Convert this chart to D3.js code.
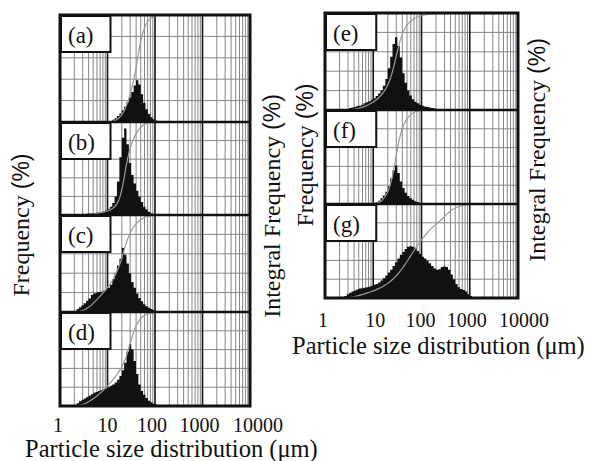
<!DOCTYPE html>
<html>
<head>
<meta charset="utf-8">
<script src="https://cdn.jsdelivr.net/npm/d3@7"></script>
<style>
  body { margin: 0; background: #fff; }
  text { font-family: "Liberation Serif", "Times New Roman", serif; fill: #111; }
</style>
</head>
<body>
<script>

// bin edges (um), 0.05 decade wide
const binEdges = [
    1, 1.12, 1.26, 1.41, 1.58, 1.78, 2, 2.24, 2.51, 2.82, 3.16, 3.55, 3.98, 4.47, 5.01, 5.62, 6.31, 7.08, 7.94, 8.91,
    10, 11.2, 12.6, 14.1, 15.8, 17.8, 20, 22.4, 25.1, 28.2, 31.6, 35.5, 39.8, 44.7, 50.1, 56.2, 63.1, 70.8, 79.4, 89.1,
    100, 112, 126, 141, 158, 178, 200, 224, 251, 282, 316, 355, 398, 447, 501, 562, 631, 708, 794, 891,
    1000, 1120, 1260];

// frequency per bin (%); firstBin = index of first bin listed
const firstBin = [20, 7, 6, 6, 9, 18, 8];
const freqA = [0.05, 0.1, 0.2, 0.35, 0.55, 0.8, 1.1, 1.45, 1.85, 2.3, 2.8, 3.4, 3.9, 3.5, 2.6, 1.8, 1.2, 0.75,
    0.45, 0.25, 0.15, 0.08, 0.04, 0.02];
const freqB = [0.05, 0.08, 0.1, 0.12, 0.14, 0.17, 0.2, 0.22, 0.25, 0.28, 0.32, 0.4, 0.5, 0.65, 0.9, 1.3, 2.0,
    3.6, 6.2, 8.3, 9.3, 7.6, 5.6, 4.3, 3.4, 2.6, 2.0, 1.4, 0.9, 0.6, 0.35, 0.2, 0.1, 0.05];
const freqC = [0.1, 0.3, 0.5, 0.7, 0.9, 1.15, 1.4, 1.75, 1.9, 2.0, 2.05, 2.1, 2.2, 2.3, 2.5, 2.8, 3.4, 4.0, 4.8,
    5.5, 6.6, 5.9, 5.0, 4.0, 3.1, 2.5, 1.9, 1.45, 1.1, 0.8, 0.6, 0.45, 0.3, 0.2, 0.1, 0.05];
const freqD = [0.1, 0.3, 0.5, 0.65, 0.8, 0.95, 1.1, 1.25, 1.4, 1.5, 1.6, 1.7, 1.8, 1.9, 2.0, 2.15, 2.3, 2.5, 2.8,
    3.2, 3.8, 4.6, 5.8, 6.6, 6.0, 4.8, 3.4, 2.3, 1.6, 1.2, 0.85, 0.55, 0.4, 0.25, 0.15, 0.1, 0.05];
const freqE = [0.1, 0.2, 0.25, 0.3, 0.4, 0.45, 0.55, 0.7, 0.8, 0.9, 1.05, 1.2, 1.45, 1.7, 2.0, 2.5, 3.2, 4.3, 5.5,
    6.8, 7.5, 6.6, 5.4, 3.8, 2.8, 2.0, 1.5, 1.1, 0.85, 0.7, 0.55, 0.45, 0.35, 0.3, 0.25, 0.2, 0.15, 0.1, 0.08, 0.05];
const freqF = [0.03, 0.05, 0.1, 0.2, 0.35, 0.6, 0.9, 1.3, 1.9, 2.7, 3.6, 4.1, 3.3, 2.4, 1.7, 1.2, 0.85, 0.6,
    0.45, 0.3, 0.2, 0.1, 0.05];
const freqG = [0.2, 0.4, 0.55, 0.7, 0.8, 0.9, 1.0, 1.05, 1.1, 1.15, 1.2, 1.3, 1.4, 1.5, 1.65, 1.85, 2.1, 2.4,
    2.7, 3.0, 3.4, 3.8, 4.2, 4.6, 4.9, 5.2, 5.45, 5.5, 5.45, 5.3, 5.0, 4.7, 4.4, 4.2, 4.0, 3.7, 3.4, 3.15, 3.0,
    3.05, 3.3, 3.35, 3.3, 3.0, 2.5, 2.0, 1.5, 1.15, 0.95, 0.85, 0.7, 0.4, 0.2, 0.05];

const panelLabels = ["(a)", "(b)", "(c)", "(d)", "(e)", "(f)", "(g)"];
const sizeTicks = [1, 10, 100, 1000, 10000];
const integralTicks = [20, 40, 60, 80];

const svg = d3.select('body')
    .append("svg")
    .attr("width", 590)
    .attr("height", 461);

function drawBlock(samples, starts, labels, x0, x1, bounds) {
    const x = d3.scaleLog().domain([1, 10000]).range([x0, x1]);
    const g = svg.append("g");

    samples.forEach((freq, i) => {
        const top = bounds[i], bot = bounds[i + 1];
        const y = d3.scaleLinear().domain([0, 10]).range([bot, top]);
        const yInt = d3.scaleLinear().domain([0, 100]).range([bot, top]);
        const s = starts[i];
        const p = g.append("g");

        // minor grid
        p.selectAll(".minor")
            .data(x.ticks().filter(t => !sizeTicks.includes(t)))
            .enter().append("line")
            .attr("x1", d => x(d)).attr("x2", d => x(d))
            .attr("y1", top).attr("y2", bot)
            .attr("stroke", "#858585").attr("stroke-width", 1);

        p.selectAll(".hgrid")
            .data(integralTicks)
            .enter().append("line")
            .attr("x1", x0).attr("x2", x1)
            .attr("y1", d => yInt(d)).attr("y2", d => yInt(d))
            .attr("stroke", "#858585").attr("stroke-width", 1);

        p.selectAll(".major")
            .data(sizeTicks.slice(1, -1))
            .enter().append("line")
            .attr("x1", d => x(d)).attr("x2", d => x(d))
            .attr("y1", top).attr("y2", bot)
            .attr("stroke", "#111").attr("stroke-width", 1.6);

        // histogram
        const pts = freq.map((f, j) => ({ e: binEdges[s + j], f: f }));
        pts.push({ e: binEdges[s + freq.length], f: 0 });
        p.append("path")
            .datum(pts)
            .attr("fill", "#111")
            .attr("d", d3.area()
                .curve(d3.curveStepAfter)
                .x(d => x(d.e))
                .y0(bot)
                .y1(d => y(d.f)));

        // integral frequency
        const cum = d3.cumsum(freq);
        const total = cum[cum.length - 1];
        const ipts = [{ e: binEdges[0], v: 0 }, { e: binEdges[s], v: 0 }]
            .concat(Array.from(cum, (c, j) => ({ e: binEdges[s + j + 1], v: c / total * 100 })));
        ipts.push({ e: 10000, v: 100 });
        p.append("path")
            .datum(ipts)
            .attr("fill", "none")
            .attr("stroke", "#9a9a9a")
            .attr("stroke-width", 1.2)
            .attr("d", d3.line()
                .curve(d3.curveMonotoneX)
                .x(d => x(d.e))
                .y(d => yInt(d.v)));

        // separator
        if (i > 0) {
            p.append("line")
                .attr("x1", x0).attr("x2", x1)
                .attr("y1", top).attr("y2", top)
                .attr("stroke", "#111").attr("stroke-width", 2.6);
        }

        // label box
        p.append("rect")
            .attr("x", x0 + 1).attr("y", top + 1)
            .attr("width", x(10) - x0 + 2).attr("height", 36)
            .attr("fill", "#fff")
            .attr("stroke", "#111").attr("stroke-width", 2);
        p.append("text")
            .attr("x", x0 + 8).attr("y", top + 28)
            .style("font-size", "23px")
            .text(labels[i]);
    });

    g.append("rect")
        .attr("x", x0).attr("y", bounds[0])
        .attr("width", x1 - x0).attr("height", bounds[bounds.length - 1] - bounds[0])
        .attr("fill", "none")
        .attr("stroke", "#111").attr("stroke-width", 3);

    return x;
}

const xl = drawBlock([freqA, freqB, freqC, freqD], firstBin.slice(0, 4), panelLabels.slice(0, 4),
    60, 250, [15, 122, 215, 312, 406]);
const xr = drawBlock([freqE, freqF, freqG], firstBin.slice(4), panelLabels.slice(4),
    325, 518, [13, 110, 204, 298]);

// tick labels (small nudges as in the original)
const nudgeL = [-2, 0, -3, -3, 8];
const nudgeR = [-2, 2, -1, -3, 6];
[[xl, 432, nudgeL], [xr, 327, nudgeR]].forEach(([x, yy, nudge]) => {
    svg.selectAll(null)
        .data(sizeTicks)
        .enter().append("text")
        .attr("x", (d, i) => x(d) + nudge[i])
        .attr("y", yy)
        .attr("text-anchor", "middle")
        .style("font-size", "20px")
        .text(d => d);
});

// axis titles
svg.append("text").attr("x", 25).attr("y", 457)
    .style("font-size", "24.5px").text("Particle size distribution (\u03bcm)");
svg.append("text").attr("x", 292).attr("y", 354)
    .style("font-size", "24.5px").text("Particle size distribution (\u03bcm)");

function yTitle(cx, cy, words) {
    const t = svg.append("text")
        .attr("transform", `translate(${cx},${cy}) rotate(-90)`)
        .attr("text-anchor", "middle")
        .style("font-size", "24px");
    t.append("tspan").text(words + " ");
    t.append("tspan")
        .style("font-family", "'Liberation Sans', Arial, sans-serif")
        .style("font-size", "23px")
        .text("(%)");
}

yTitle(29, 225, "Frequency");
yTitle(280, 206, "Integral Frequency");
yTitle(313, 155, "Frequency");
yTitle(545, 150, "Integral Frequency");

</script>
</body>
</html>
